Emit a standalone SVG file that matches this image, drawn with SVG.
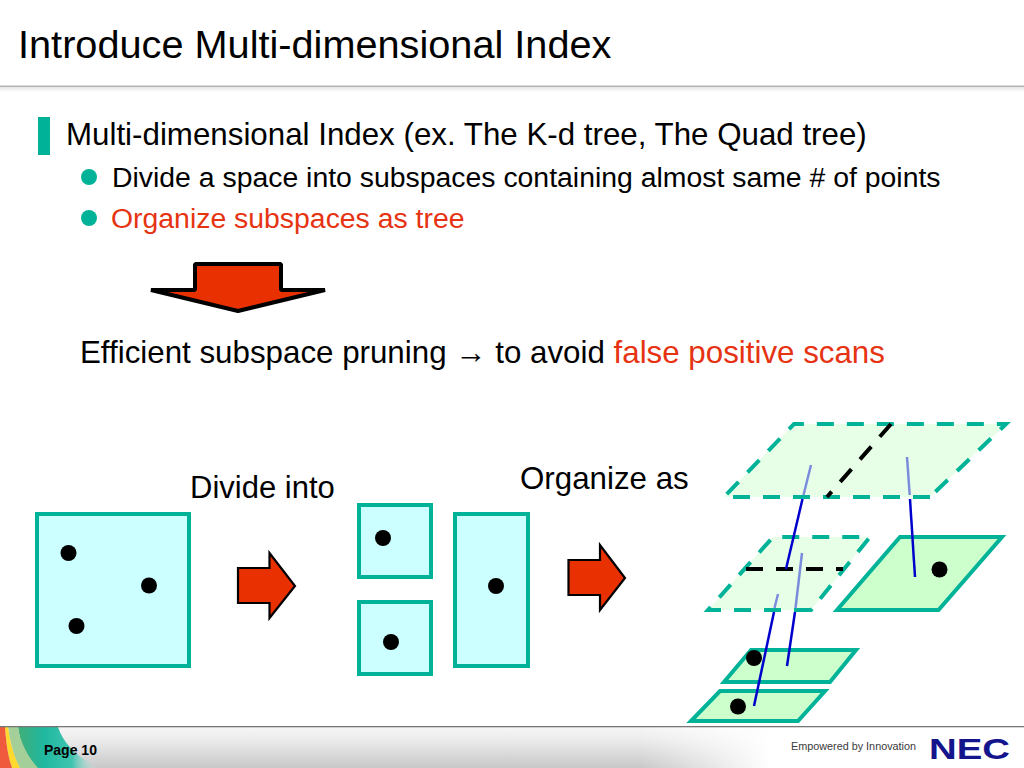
<svg xmlns="http://www.w3.org/2000/svg" width="1024" height="768" viewBox="0 0 1024 768">
<style>
text{font-family:"Liberation Sans",Arial,sans-serif;fill:#000}
.red{fill:#e63312}
.box{fill:#ccffff;stroke:#00b398;stroke-width:4}
.dot{fill:#000}
.arrow{fill:#e83000;stroke:#000;stroke-width:2.2;stroke-linejoin:miter}
.solid{fill:#ccffcc;stroke:#00b398;stroke-width:4;stroke-linejoin:miter}
.dash{fill:#e6ffe6;stroke:#00b398;stroke-width:4;stroke-dasharray:17 13}
.cut{fill:none;stroke:#000;stroke-width:4;stroke-dasharray:17 13}
.dk{stroke:#0000cc;stroke-width:2.500;fill:none}
.lt{stroke:#7b8cdc;stroke-width:2.500;fill:none}
.bul{fill:#00b398}
</style>
<defs>
<linearGradient id="fv" x1="0" y1="0" x2="0" y2="1"><stop offset="0" stop-color="#f6f6f6"/><stop offset="0.3" stop-color="#ececec"/><stop offset="1" stop-color="#c8c8c8"/></linearGradient>
<linearGradient id="fh" x1="0" y1="0" x2="1" y2="0"><stop offset="0" stop-color="#fff" stop-opacity="0"/><stop offset="1" stop-color="#fff"/></linearGradient>
<linearGradient id="teal" gradientUnits="userSpaceOnUse" x1="20" y1="0" x2="100" y2="0"><stop offset="0" stop-color="#3fae7a"/><stop offset="0.3" stop-color="#1fb8a0"/><stop offset="0.65" stop-color="#40c4b0"/><stop offset="1" stop-color="#e6ecea" stop-opacity="0"/></linearGradient>
<linearGradient id="hs" x1="0" y1="0" x2="0" y2="1"><stop offset="0" stop-color="#e4e4e4"/><stop offset="1" stop-color="#fff"/></linearGradient>
<clipPath id="fc"><rect x="0" y="727" width="140" height="41"/></clipPath>
</defs>
<rect width="1024" height="768" fill="#fff"/>
<g id="header">
<rect x="0" y="87" width="1024" height="5" fill="url(#hs)"/>
<rect x="0" y="85.500" width="1024" height="1.500" fill="#b4b4b4"/>
<text x="18" y="58" font-size="39.700">Introduce Multi-dimensional Index</text>
</g>
<g id="bullets">
<rect class="bul" x="38" y="117" width="12" height="38"/>
<text x="66" y="145" font-size="31.300">Multi-dimensional Index (ex. The K-d tree, The Quad tree)</text>
<circle class="bul" cx="89" cy="177" r="8"/>
<text x="112" y="187" font-size="28.400">Divide a space into subspaces containing almost same # of points</text>
<circle class="bul" cx="89" cy="218" r="8"/>
<text class="red" x="111" y="228" font-size="28.400">Organize subspaces as tree</text>
<text x="80" y="363" font-size="31.300">Efficient subspace pruning → to avoid <tspan class="red">false positive scans</tspan></text>
</g>
<g id="down-arrow"><polygon points="195,264 281,264 281,290 325,290 238,311 151,290 195,290" fill="#e83000" stroke="#000" stroke-width="4" stroke-linejoin="bevel"/></g>
<g id="label-divide"><text x="190" y="498" font-size="31">Divide into</text></g>
<g id="label-organize"><text x="520" y="489" font-size="31.300">Organize as</text></g>
<g id="space"><rect class="box" x="37" y="514" width="152" height="152"/>
<circle class="dot" cx="68.500" cy="553" r="8"/><circle class="dot" cx="149" cy="585.500" r="8"/><circle class="dot" cx="76.500" cy="626" r="8"/></g>
<g id="arrow-1"><polygon class="arrow" points="238,568 269.500,568 269.500,553 295,586 269.500,618 269.500,603 238,603"/></g>
<g id="sub-a"><rect class="box" x="359" y="505" width="72" height="72"/><circle class="dot" cx="383" cy="538" r="8"/></g>
<g id="sub-b"><rect class="box" x="359" y="602" width="72" height="72"/><circle class="dot" cx="391" cy="642" r="8"/></g>
<g id="sub-c"><rect class="box" x="455" y="514" width="73" height="152"/><circle class="dot" cx="496" cy="586" r="8"/></g>
<g id="arrow-2"><polygon class="arrow" points="568.500,560 600,560 600,545 625,578 600,610 600,595 568.500,595"/></g>
<g id="tree-root"><path class="dash" d="M930,497 L724,497 L794,424 L1006,424 Z"/><path class="cut" d="M891,424 L827,497"/></g>
<g id="tree-mid"><path class="dash" d="M811,610 L708,610 L773,537 L870,537 Z"/><path class="cut" d="M746,569 L843,569"/></g>
<g id="leaf-right"><polygon class="solid" points="900,537 1002,537 938.500,610 837,610"/><circle class="dot" cx="939.500" cy="569.500" r="8"/></g>
<g id="leaf-1"><polygon class="solid" points="751,650 856,650 830,682 724,682"/><circle class="dot" cx="754" cy="658" r="8"/></g>
<g id="leaf-2"><polygon class="solid" points="720,691 825,691 798,721 691,721"/><circle class="dot" cx="738" cy="706.500" r="8"/></g>
<g id="connectors">
<path class="lt" d="M811,465 L803.500,495"/><path class="dk" d="M802.500,499 L786,569"/>
<path class="lt" d="M907,457 L909.700,495"/><path class="dk" d="M910,499 L915,577"/>
<path class="lt" d="M802,553 L795.500,608"/><path class="dk" d="M795,612 L787,666"/>
<path class="lt" d="M778,594 L774.500,608"/><path class="dk" d="M774,612 L754,706"/>
</g>
<g id="footer">
<rect x="0" y="727" width="1024" height="41" fill="url(#fv)"/>
<rect x="640" y="727" width="130" height="41" fill="url(#fh)"/>
<rect x="770" y="727" width="254" height="41" fill="#fff"/>
<g clip-path="url(#fc)">
<path d="M18,727 L58,727 C64,745 78,758 100,768 L34,768 C26,757 20,742 18,727 Z" fill="url(#teal)"/>
<path d="M8,727 L18,727 C20,742 28,757 38,768 L20,768 C14,757 10,742 8,727 Z" fill="#a5cf98"/>
<path d="M5,727 L8,727 C10,742 14,757 20,768 L12,768 C8,757 6,742 5,727 Z" fill="#ffd92e"/>
<path d="M0,727 L5,727 C6,742 8,757 12,768 L0,768 Z" fill="#ef5a3c"/>
</g>
<rect x="0" y="726" width="1024" height="1.300" fill="#777"/>
<text x="44" y="755" font-size="14" font-weight="bold">Page 10</text>
<text x="791" y="750" font-size="11" style="fill:#3a3a3a" textLength="125" lengthAdjust="spacingAndGlyphs">Empowered by Innovation</text>
<text x="929" y="759" font-size="30" font-weight="bold" style="fill:#14148c" textLength="81" lengthAdjust="spacingAndGlyphs">NEC</text>
</g>
</svg>
